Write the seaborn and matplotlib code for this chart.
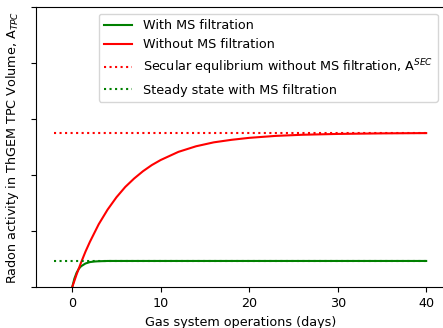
import numpy as np
import pandas as pd
import seaborn as sns
import matplotlib
matplotlib.use('Agg')
import matplotlib.pyplot as plt

# radon build-up (arbitrary units, axis hidden)
days_red = [0, 0.5, 1, 1.5, 2, 3, 4, 5, 6, 7, 8, 9, 10, 12, 14, 16, 18, 20, 23, 26, 30, 35, 40]
without_ms = [0, 0.046, 0.088, 0.127, 0.162, 0.225, 0.277, 0.321, 0.358, 0.388, 0.414, 0.436,
              0.454, 0.483, 0.503, 0.517, 0.526, 0.533, 0.540, 0.544, 0.547, 0.549, 0.550]

days_green = [0, 0.25, 0.5, 0.75, 1, 1.5, 2, 2.5, 3, 4, 5, 10, 20, 30, 40]
with_ms = [0, 0.031, 0.052, 0.066, 0.075, 0.085, 0.090, 0.092, 0.093, 0.094, 0.094,
           0.094, 0.094, 0.094, 0.094]

ref_days = [-2, 40]
secular_eq = [0.55, 0.55]
steady_state = [0.094, 0.094]

fs = 9.2

fig = plt.figure(figsize=(4.43, 3.28), dpi=100)
ax = fig.add_axes([0.081, 0.124, 0.923, 0.855])

sns.lineplot(x=days_green, y=with_ms, color='green', lw=1.5, label='With MS filtration', ax=ax)
sns.lineplot(x=days_red, y=without_ms, color='red', lw=1.5, label='Without MS filtration', ax=ax)
sns.lineplot(x=ref_days, y=secular_eq, color='red', lw=1.5, linestyle=':',
             label='Secular equlibrium without MS filtration, A$^{SEC}$', ax=ax)
sns.lineplot(x=ref_days, y=steady_state, color='green', lw=1.5, linestyle=':',
             label='Steady state with MS filtration', ax=ax)

ax.set_ylim(0, 1)
ax.set_yticks(np.arange(0, 1.01, 0.2))
ax.set_yticklabels([])
ax.set_xticks([0, 10, 20, 30, 40])
ax.set_xlabel('Gas system operations (days)', fontsize=fs)
ax.set_ylabel('Radon activity in ThGEM TPC Volume, A$_{TPC}$', fontsize=fs)
ax.tick_params(labelsize=fs)
ax.legend(loc='upper right', fontsize=fs, handlelength=2.2, handletextpad=0.85,
          borderaxespad=0.55)

fig.savefig('out.png', dpi=100)
